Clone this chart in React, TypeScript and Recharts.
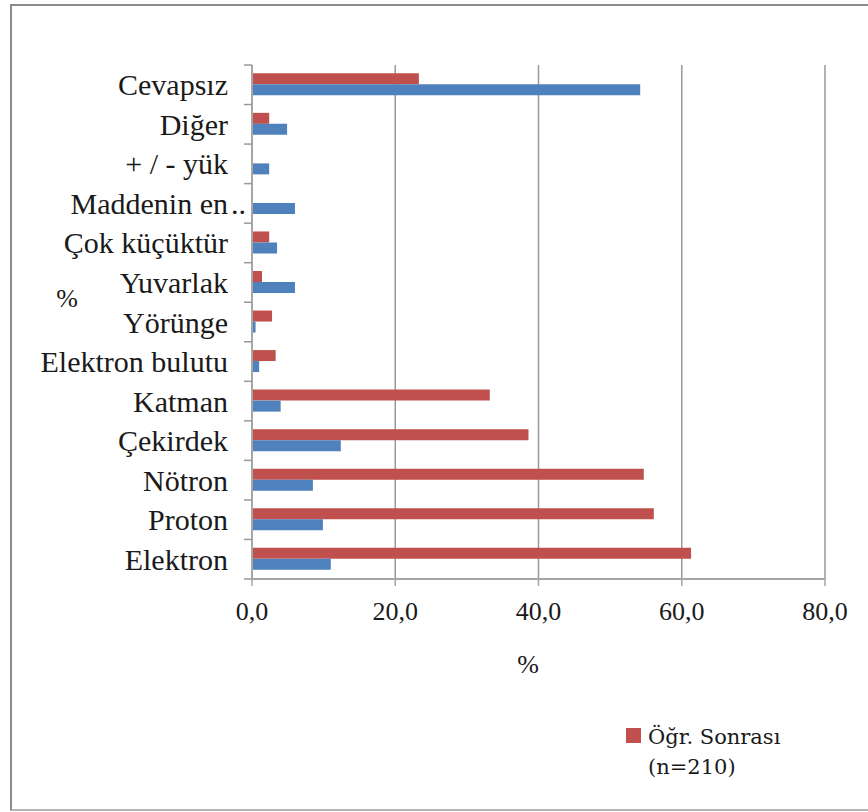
import React from "react";
import { BarChart, Bar, XAxis, YAxis, CartesianGrid } from "recharts";

// kategoriler yukarıdan aşağıya
const categories = [
  "Cevapsız",
  "Diğer",
  "+ / - yük",
  "Maddenin en..",
  "Çok küçüktür",
  "Yuvarlak",
  "Yörünge",
  "Elektron bulutu",
  "Katman",
  "Çekirdek",
  "Nötron",
  "Proton",
  "Elektron",
];
const sonrasi = [23.3, 2.4, 0, 0, 2.4, 1.4, 2.8, 3.3, 33.2, 38.6, 54.7, 56.1, 61.3];
const oncesi = [54.2, 4.9, 2.4, 6.0, 3.5, 6.0, 0.5, 1.0, 4.0, 12.4, 8.5, 9.9, 11.0];
const xTicks = [0, 20, 40, 60, 80];

const RED = "#C0504D";
const BLUE = "#4F81BD";
const GRID = "#999999";
const SERIF = "Liberation Serif";

const data = categories.map((name, i) => ({
  name,
  sonrasi: sonrasi[i],
  oncesi: oncesi[i],
}));

function CategoryTick(props: any) {
  const { x, y, payload, index } = props;
  const half = payload.offset ?? 19.7;
  const label: string = payload.value;
  const trunc = label.endsWith("..");
  const main = trunc ? label.slice(0, -2) : label;
  return (
    <g>
      <line x1={x - 8} x2={x} y1={y - half} y2={y - half} stroke={GRID} strokeWidth={1.5} />
      {index === categories.length - 1 && (
        <line x1={x - 8} x2={x} y1={y + half} y2={y + half} stroke={GRID} strokeWidth={1.5} />
      )}
      <text
        x={x - 24}
        y={y}
        dy="0.35em"
        textAnchor="end"
        style={{ fontFamily: SERIF, fontSize: 30 }}
        fill="#1a1a1a"
      >
        {main}
      </text>
      {trunc && (
        <text x={x - 21} y={y} dy="0.35em" style={{ fontFamily: SERIF, fontSize: 30 }} fill="#1a1a1a">
          ..
        </text>
      )}
    </g>
  );
}

export default function App() {
  return (
    <div
      style={{
        position: "absolute",
        left: 0,
        top: 0,
        width: 868,
        height: 812,
        overflow: "hidden",
        background: "#fff",
      }}
    >
      <div style={{ position: "absolute", left: 0, top: 0 }}>
        <BarChart
          width={868}
          height={812}
          data={data}
          layout="vertical"
          margin={{ top: 65, right: 43, bottom: 173, left: 0 }}
          barCategoryGap="21%"
          barGap={0}
        >
          <CartesianGrid vertical horizontal={false} stroke={GRID} strokeWidth={1.5} />
          <XAxis
            type="number"
            domain={[0, 80]}
            ticks={xTicks}
            height={60}
            tickSize={7}
            tickMargin={16}
            tickFormatter={(v: number) => v.toFixed(1).replace(".", ",")}
            tick={{ style: { fontFamily: SERIF, fontSize: 26 }, fill: "#1a1a1a" }}
            axisLine={{ stroke: "#a6a6a6", strokeWidth: 2 }}
            tickLine={{ stroke: "#a6a6a6", strokeWidth: 1.5 }}
          />
          <YAxis
            type="category"
            dataKey="name"
            width={252}
            tickSize={0}
            tickMargin={0}
            interval={0}
            tick={<CategoryTick />}
            axisLine={{ stroke: "#a6a6a6", strokeWidth: 2 }}
          />
          <Bar dataKey="sonrasi" name="Öğr. Sonrası (n=210)" fill={RED} isAnimationActive={false} />
          <Bar dataKey="oncesi" name="Öğr. Öncesi" fill={BLUE} isAnimationActive={false} />
        </BarChart>
      </div>
      <div
        style={{
          position: "absolute",
          left: 10,
          top: 4,
          width: 880,
          height: 803,
          borderTop: "2px solid #8c8c8c",
          borderLeft: "2px solid #8c8c8c",
          borderBottom: "2px solid #b4b4b4",
          pointerEvents: "none",
        }}
      />
      <div
        style={{
          position: "absolute",
          left: 67,
          top: 299,
          transform: "translate(-50%, -50%)",
          fontFamily: SERIF,
          fontSize: 26,
          lineHeight: 1,
          color: "#1a1a1a",
        }}
      >
        %
      </div>
      <div
        style={{
          position: "absolute",
          left: 528,
          top: 665,
          transform: "translate(-50%, -50%)",
          fontFamily: SERIF,
          fontSize: 26,
          lineHeight: 1,
          color: "#1a1a1a",
        }}
      >
        %
      </div>
      <div style={{ position: "absolute", left: 626, top: 728, width: 15, height: 15, background: RED }} />
      <div
        style={{
          position: "absolute",
          left: 648,
          top: 722,
          fontFamily: "DejaVu Serif",
          fontSize: 21,
          lineHeight: "30px",
          color: "#1a1a1a",
          whiteSpace: "nowrap",
        }}
      >
        Öğr. Sonrası
        <br />
        (n=210)
      </div>
    </div>
  );
}
